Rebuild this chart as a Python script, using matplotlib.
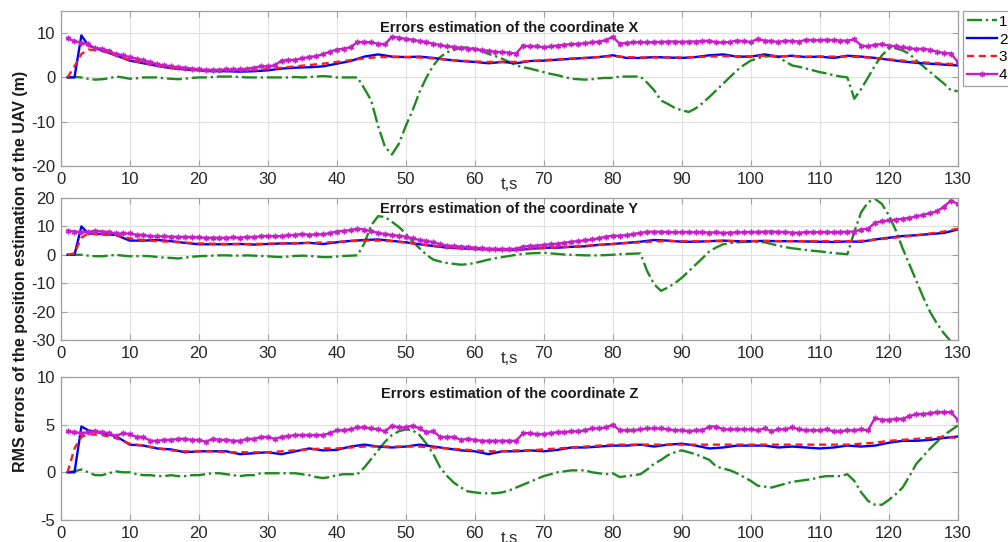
import matplotlib
matplotlib.use('Agg')
import matplotlib.pyplot as plt
import numpy as np

plt.rcParams['font.family'] = ['Liberation Sans', 'DejaVu Sans']
plt.rcParams['axes.unicode_minus'] = False

# time grids (s)
t_fine = np.arange(1, 131)
t_line = np.array([1, 2, 3] + list(range(4, 131, 2)))

# ---- coordinate X ----
x_green = [0, 0.1, 0, -0.3, -0.5, -0.4, -0.2, 0.2, 0, -0.3,
           -0.2, 0, 0, 0, -0.2, -0.3, -0.4, -0.3, -0.1, 0,
           0, 0.1, 0.2, 0.2, 0.2, 0.1, 0, 0, 0, 0,
           0, 0, 0, 0.1, 0, 0.1, 0.2, 0.3, 0.2, 0,
           0, 0, 0, -2.5, -5.2, -11, -15.7, -17.4, -15, -11,
           -7.4, -3.3, 0, 2.7, 4.6, 5.7, 6.2, 6.7, 6.8, 6.5,
           6, 5.3, 4.8, 4.2, 3.5, 2.7, 2.3, 2.0, 1.6, 1.2,
           0.8, 0.5, 0.1, -0.3, -0.4, -0.5, -0.4, -0.2, -0.1, -0.1,
           0.2, 0.2, 0.2, 0.2, -1.2, -2.9, -5.2, -6, -6.9, -7.4,
           -7.8, -7.0, -5.8, -4.4, -2.9, -1.4, 0.1, 1.6, 2.8, 3.8,
           4.3, 4.7, 4.8, 4.6, 3.6, 2.7, 2.4, 2.0, 1.6, 1.2,
           0.9, 0.5, 0.2, 0, -4.8, -2.6, 0, 2.7, 5, 6.5,
           6.6, 6.1, 5.3, 3.8, 2.5, 1.2, -0.1, -1.4, -2.9, -3.1]
x_blue = [0, 0, 9.5, 7.2, 6.1, 5.0, 3.8, 3.2, 2.6, 2.1, 1.8, 1.6, 1.4, 1.4, 1.3, 1.4,
          1.6, 2.0, 2.2, 2.3, 2.5, 3.1, 3.7, 4.7, 5.2, 4.7, 4.6, 4.7, 4.4, 4.0, 3.7,
          3.5, 3.2, 3.5, 3.2, 3.7, 3.8, 4.0, 4.2, 4.4, 4.6, 5.0, 4.4, 4.4, 4.6, 4.5,
          4.4, 4.6, 5.0, 5.2, 4.7, 4.7, 5.2, 4.7, 4.9, 4.6, 4.7, 4.4, 4.9, 4.7, 4.4,
          4.0, 3.6, 3.3, 3.1, 2.9, 2.7]
x_red = [0, 2.5, 5.3, 6.3, 6.0, 5.0, 3.9, 3.3, 2.7, 2.2, 1.9, 1.7, 1.6, 1.6, 1.6, 1.7,
         1.9, 2.2, 2.5, 2.8, 3.1, 3.5, 3.9, 4.3, 4.6, 4.6, 4.6, 4.5, 4.3, 4.0, 3.8,
         3.6, 3.5, 3.5, 3.5, 3.7, 3.9, 4.1, 4.3, 4.4, 4.6, 4.8, 4.6, 4.5, 4.5, 4.5,
         4.5, 4.6, 4.7, 4.8, 4.8, 4.8, 4.9, 4.8, 4.8, 4.7, 4.7, 4.7, 4.7, 4.6, 4.4,
         4.1, 3.8, 3.5, 3.3, 3.1, 3.0]
x_magenta = [8.8, 8.2, 7.8, 7.5, 6.6, 6.5, 6.0, 5.3, 5.0, 4.6,
             4.2, 3.9, 3.4, 3.0, 2.7, 2.5, 2.3, 2.2, 2.0, 1.8,
             1.7, 1.7, 1.7, 1.8, 1.8, 1.8, 2.0, 2.2, 2.5, 2.5,
             2.7, 3.8, 3.9, 4.0, 4.3, 4.6, 4.8, 5.2, 5.8, 6.3,
             6.5, 6.8, 8.0, 8.0, 7.9, 7.6, 7.5, 9.2, 9.0, 8.7,
             8.5, 8.2, 8.0, 7.6, 7.3, 7.0, 6.9, 6.7, 6.5, 6.4,
             6.2, 6.0, 5.8, 5.7, 5.6, 5.4, 7.2, 7.0, 7.0, 6.8,
             7.0, 7.2, 7.4, 7.5, 7.6, 7.7, 7.9, 8.1, 8.4, 9.2,
             7.6, 7.8, 7.9, 8.0, 7.9, 8.0, 8.0, 8.1, 8.1, 8.0,
             8.1, 8.1, 8.2, 8.3, 7.9, 7.9, 8.0, 8.3, 8.2, 8.0,
             8.7, 8.3, 8.2, 8.0, 8.3, 8.2, 8.1, 8.5, 8.4, 8.4,
             8.5, 8.4, 8.3, 8.3, 8.6, 7.2, 7.0, 7.4, 7.5, 7.2,
             7.0, 6.8, 6.6, 6.4, 6.5, 6.2, 5.8, 5.5, 5.4, 3.5]

# ---- coordinate Y ----
y_green = [0, 0, 0, -0.3, -0.5, -0.5, -0.3, 0, -0.3, -0.5,
           -0.5, -0.4, -0.5, -0.8, -1.0, -1.1, -1.3, -1.0, -0.7, -0.5,
           -0.4, -0.3, -0.2, -0.2, -0.3, -0.3, -0.2, -0.3, -0.4, -0.5,
           -0.7, -0.8, -0.6, -0.4, -0.3, -0.4, -0.6, -0.8, -0.8, -0.6,
           -0.4, -0.3, -0.2, 4.0, 10.4, 13.6, 13.3, 11.6, 9.8, 7.5,
           4.6, 2.3, 0, -1.7, -2.4, -2.9, -3.2, -3.5, -3.3, -2.9,
           -2.3, -1.7, -1.2, -0.8, -0.4, 0, 0.3, 0.5, 0.6, 0.7,
           0.5, 0.3, 0.1, 0, -0.1, -0.2, -0.2, -0.2, -0.1, 0,
           0.2, 0.3, 0.4, 0.5, -5.8, -10.4, -12.7, -11.5, -10, -8.1,
           -5.8, -3.5, -1.2, 1.2, 2.6, 3.7, 4.1, 4.4, 4.5, 4.6,
           4.5, 4.4, 3.8, 3.2, 2.7, 2.3, 2.0, 1.7, 1.4, 1.2,
           0.9, 0.6, 0.4, 0.2, 8.1, 15, 18.5, 19.7, 17.9, 13.9,
           8.7, 2.3, -3.5, -9.2, -15, -20.2, -24.3, -27.7, -30.5, -33]
y_blue = [0, 0, 10.0, 7.5, 7.3, 7.0, 5.0, 5.0, 5.2, 4.8, 4.2, 3.7, 3.7, 3.7, 3.8, 3.6,
          3.8, 4.0, 4.0, 4.2, 3.8, 4.4, 4.9, 5.2, 5.4, 4.9, 4.4, 3.7, 3.1, 2.5, 2.3,
          2.0, 2.0, 1.7, 1.7, 2.1, 2.5, 2.5, 2.8, 3.0, 3.5, 3.8, 4.2, 4.6, 5.2, 5.0,
          4.6, 4.6, 4.8, 5.0, 4.8, 4.8, 4.9, 4.8, 4.8, 4.7, 4.6, 4.5, 4.7, 4.6, 5.4,
          6.0, 6.6, 6.9, 7.3, 7.7, 8.9]
y_red = [0, 0.5, 6.0, 7.5, 7.0, 7.0, 5.8, 5.2, 4.8, 4.6, 4.3, 4.0, 3.9, 3.8, 3.8, 3.8,
         3.9, 4.0, 4.1, 4.2, 4.3, 4.5, 4.8, 5.0, 5.0, 4.8, 4.3, 3.7, 3.1, 2.6, 2.3,
         2.1, 1.9, 1.8, 1.8, 2.0, 2.3, 2.6, 2.9, 3.2, 3.5, 3.8, 4.1, 4.4, 4.7, 4.8,
         4.8, 4.8, 4.8, 4.8, 4.8, 4.8, 4.8, 4.8, 4.8, 4.8, 4.8, 4.8, 4.8, 4.9, 5.3,
         5.8, 6.3, 6.9, 7.5, 8.2, 9.2]
y_magenta = [8.5, 8.2, 8.0, 8.0, 8.5, 8.2, 8.0, 7.5, 7.5, 7.5,
             7.0, 7.0, 6.5, 6.5, 6.5, 6.4, 6.3, 6.3, 6.2, 6.1,
             6.0, 6.0, 6.0, 6.0, 6.1, 6.0, 6.3, 6.2, 6.5, 6.6,
             6.5, 6.6, 6.8, 7.0, 7.3, 7.0, 7.2, 7.2, 7.6, 8.2,
             8.4, 8.7, 9.2, 8.9, 8.3, 7.7, 7.3, 6.9, 6.7, 6.4,
             5.8, 5.2, 4.9, 4.4, 3.7, 3.2, 3.1, 2.9, 2.7, 2.5,
             2.3, 2.1, 2.1, 2.0, 2.0, 2.1, 2.9, 3.1, 3.2, 3.5,
             3.7, 3.9, 4.2, 4.6, 4.8, 5.1, 5.4, 5.8, 6.4, 6.7,
             6.7, 6.9, 7.3, 7.7, 8.1, 8.1, 8.1, 8.0, 7.9, 7.9,
             8.0, 7.9, 7.9, 7.8, 7.9, 7.7, 7.8, 7.9, 7.9, 8.0,
             8.0, 8.1, 8.2, 8.0, 8.0, 7.8, 7.7, 8.0, 7.9, 8.0,
             8.0, 7.9, 8.0, 8.1, 8.2, 8.9, 9.2, 11.3, 11.8, 12.1,
             12.4, 12.7, 13.0, 13.5, 14.1, 14.7, 15.3, 17.0, 19.1, 17.9]

# ---- coordinate Z ----
z_green = [0, 0.1, 0.3, 0, -0.3, -0.3, -0.1, 0.1, 0, 0,
           -0.2, -0.3, -0.3, -0.4, -0.4, -0.3, -0.4, -0.4, -0.3, -0.3,
           -0.2, -0.1, -0.1, -0.2, -0.3, -0.4, -0.3, -0.3, -0.1, -0.1,
           -0.1, -0.1, -0.1, -0.1, -0.2, -0.3, -0.5, -0.6, -0.5, -0.3,
           -0.2, -0.2, -0.2, 0.5, 1.4, 2.3, 3.2, 3.9, 4.3, 4.5,
           4.4, 3.9, 3.0, 1.9, 0.5, -0.4, -1.1, -1.6, -2.0, -2.1,
           -2.2, -2.2, -2.2, -2.1, -1.9, -1.6, -1.3, -1.0, -0.7, -0.4,
           -0.2, 0, 0.1, 0.2, 0.2, 0.2, 0, -0.1, -0.2, -0.1,
           -0.5, -0.4, -0.3, -0.2, 0.3, 0.9, 1.3, 1.8, 2.1, 2.3,
           2.1, 1.9, 1.6, 1.3, 0.6, 0.4, 0.2, -0.1, -0.5, -0.9,
           -1.4, -1.5, -1.6, -1.4, -1.2, -1.0, -0.9, -0.8, -0.7, -0.5,
           -0.4, -0.4, -0.4, -0.2, -0.9, -2.1, -3.0, -3.4, -3.4, -2.9,
           -2.3, -1.6, -0.4, 0.9, 1.7, 2.5, 3.2, 3.9, 4.4, 4.9]
z_blue = [0, 0, 4.8, 4.4, 4.1, 3.8, 2.9, 2.8, 2.5, 2.4, 2.1, 2.2, 2.2, 2.2, 1.9, 2.0,
          2.1, 1.9, 2.2, 2.5, 2.3, 2.35, 2.7, 2.9, 2.7, 2.6, 2.7, 2.9, 2.7, 2.5, 2.3,
          2.2, 1.9, 2.2, 2.2, 2.3, 2.2, 2.35, 2.6, 2.6, 2.7, 2.8, 2.8, 2.9, 2.7, 2.9,
          3.0, 2.8, 2.5, 2.6, 2.8, 2.8, 2.8, 2.6, 2.7, 2.6, 2.5, 2.6, 2.8, 2.7, 2.8,
          3.1, 3.3, 3.3, 3.4, 3.6, 3.75]
z_red = [0, 2.5, 3.7, 4.0, 3.9, 3.6, 3.0, 2.8, 2.5, 2.3, 2.2, 2.2, 2.2, 2.1, 2.1, 2.1,
         2.1, 2.2, 2.3, 2.4, 2.5, 2.5, 2.6, 2.7, 2.7, 2.7, 2.7, 2.7, 2.6, 2.5, 2.4,
         2.3, 2.2, 2.2, 2.3, 2.3, 2.4, 2.5, 2.6, 2.7, 2.8, 2.9, 2.9, 2.9, 2.9, 2.9,
         2.9, 2.9, 2.9, 2.9, 2.9, 2.9, 2.9, 2.9, 2.9, 2.9, 2.9, 2.9, 2.9, 3.0, 3.1,
         3.3, 3.4, 3.5, 3.6, 3.7, 3.6]
z_magenta = [4.3, 4.2, 4.1, 4.2, 4.3, 4.2, 4.1, 3.8, 4.1, 4.0,
             3.7, 3.7, 3.3, 3.3, 3.4, 3.4, 3.5, 3.5, 3.4, 3.4,
             3.2, 3.5, 3.4, 3.4, 3.3, 3.3, 3.5, 3.5, 3.7, 3.7,
             3.5, 3.7, 3.8, 3.9, 3.9, 3.9, 3.9, 3.9, 4.1, 4.4,
             4.4, 4.5, 4.7, 4.7, 4.6, 4.5, 4.3, 4.9, 4.7, 4.7,
             4.9, 4.6, 4.2, 4.3, 3.7, 3.7, 3.7, 3.4, 3.5, 3.4,
             3.3, 3.3, 3.3, 3.3, 3.3, 3.3, 4.1, 4.1, 4.0, 4.0,
             4.1, 4.2, 4.2, 4.3, 4.3, 4.4, 4.6, 4.6, 4.7, 5.0,
             4.4, 4.4, 4.4, 4.5, 4.6, 4.6, 4.6, 4.5, 4.4, 4.4,
             4.3, 4.4, 4.4, 4.8, 4.8, 4.5, 4.5, 4.5, 4.5, 4.5,
             4.4, 4.6, 4.3, 4.5, 4.5, 4.7, 4.5, 4.4, 4.4, 4.4,
             4.5, 4.3, 4.3, 4.4, 4.4, 4.5, 4.4, 5.7, 5.5, 5.5,
             5.6, 5.6, 5.9, 6.1, 6.1, 6.2, 6.3, 6.3, 6.3, 5.5]

titles = ['Errors estimation of the coordinate X',
          'Errors estimation of the coordinate Y',
          'Errors estimation of the coordinate Z']
ylims = [(-20, 15), (-30, 20), (-5, 10)]
yticks = [[-20, -10, 0, 10], [-30, -20, -10, 0, 10, 20], [-5, 0, 5, 10]]
legend_labels = ['1', '2', '3', '4']

panels = [
    (x_green, x_blue, x_red, x_magenta),
    (y_green, y_blue, y_red, y_magenta),
    (z_green, z_blue, z_red, z_magenta),
]

fig = plt.figure(figsize=(10.08, 5.42), dpi=100)
rects = [(0.0602, 0.6937, 0.890, 0.286),
         (0.0602, 0.3727, 0.890, 0.262),
         (0.0602, 0.0406, 0.890, 0.264)]
title_drop = [17, 11, 17]  # px from axes top to title centre

green = '#1f8a1f'
magenta = '#c81ec8'
asterisk = (6, 2, 0)
frame_col = '#a0a0a0'

handles = None
for i, (g, b, r, m) in enumerate(panels):
    ax = fig.add_axes(rects[i])
    l1, = ax.plot(t_fine, g, color=green, ls='-.', lw=1.7)
    l2, = ax.plot(t_line, b, color='#0000ff', ls='-', lw=1.7)
    l3, = ax.plot(t_line, r, color='#ff1a1a', ls=(0, (3, 2)), lw=1.7)
    l4, = ax.plot(t_fine, m, color=magenta, ls='-', lw=1.7,
                  marker=asterisk, ms=4, mew=1.0)
    if handles is None:
        handles = [l1, l2, l3, l4]

    ax.set_xlim(0, 130)
    ax.set_ylim(*ylims[i])
    ax.set_xticks(np.arange(0, 131, 10))
    ax.set_yticks(yticks[i])
    ax.grid(True, color='#e0e0e0', lw=0.8)
    ax.set_axisbelow(True)
    ax.tick_params(direction='in', length=4, color=frame_col,
                   labelsize=12, labelcolor='#262626', pad=4,
                   top=True, right=True)
    for s in ax.spines.values():
        s.set_color(frame_col)
        s.set_linewidth(0.9)

    ax.annotate(titles[i], xy=(0.5, 1), xycoords='axes fraction',
                xytext=(0, -title_drop[i]), textcoords='offset pixels',
                ha='center', va='center', fontsize=10.5,
                fontweight='bold', color='#1a1a1a')
    ax.annotate('t,s', xy=(0.5, 0), xycoords='axes fraction',
                xytext=(0, -11), textcoords='offset pixels',
                ha='center', va='top', fontsize=12, color='#262626')

fig.text(0.020, 0.50, 'RMS errors of the position estimation of the UAV (m)',
         rotation=90, ha='center', va='center', fontsize=11.5,
         fontweight='bold', color='#1a1a1a')

leg = fig.legend(handles, legend_labels, loc='upper left',
                 bbox_to_anchor=(0.9554, 0.9797), fontsize=11,
                 handlelength=2.0, handletextpad=0.1, borderpad=0.25,
                 borderaxespad=0, labelspacing=0.25, fancybox=False,
                 framealpha=1, edgecolor=frame_col, numpoints=1)
leg.get_frame().set_linewidth(0.9)

fig.savefig('out.png', dpi=100)
